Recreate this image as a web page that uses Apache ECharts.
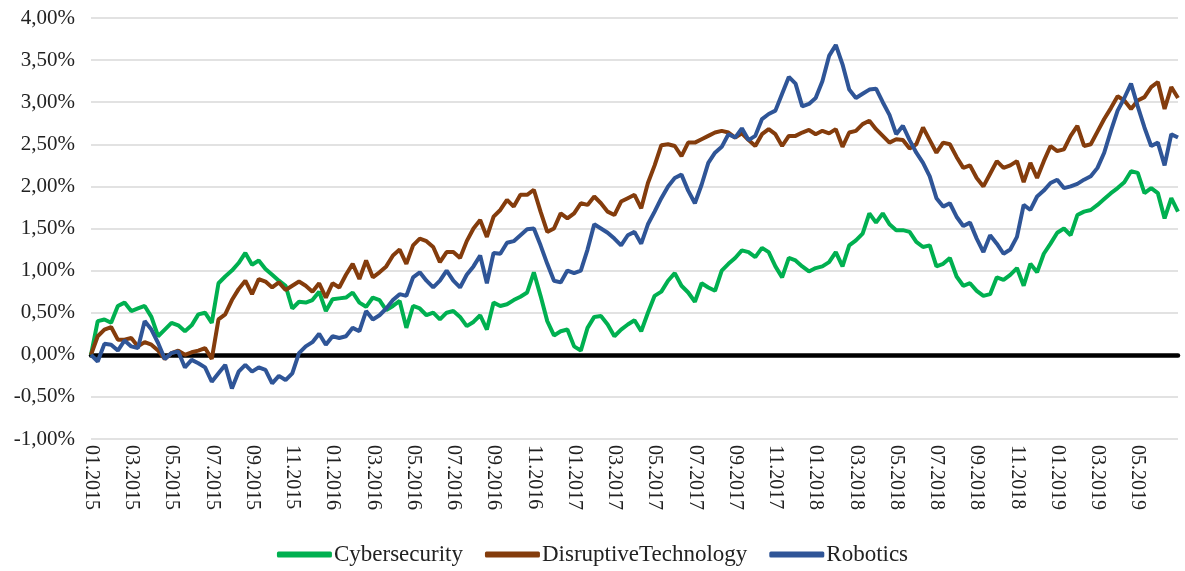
<!DOCTYPE html>
<html>
<head>
<meta charset="utf-8">
<title>Cybersecurity / Disruptive Technology / Robotics</title>
<script src="https://cdn.jsdelivr.net/npm/echarts@6/dist/echarts.min.js"></script>
<style>
  html, body { margin: 0; padding: 0; background: #fff; }
  #chart { width: 1185px; height: 571px; }
</style>
</head>
<body>
<div id="chart"></div>
<script>
// months shown on the axis, three readings per month (roughly every 10 days)
const startYear = 2015
const monthCount = 55 // 01.2015 .. 07.2019
const stepsPerMonth = 3

const cybersecurity = [
  0.00, 0.40, 0.42, 0.38, 0.58, 0.62, 0.52, 0.55, 0.58, 0.45,
  0.22, 0.30, 0.38, 0.35, 0.28, 0.35, 0.48, 0.50, 0.38, 0.85,
  0.93, 1.00, 1.09, 1.21, 1.07, 1.12, 1.02, 0.95, 0.88, 0.82,
  0.55, 0.63, 0.62, 0.65, 0.75, 0.52, 0.66, 0.67, 0.68, 0.74,
  0.62, 0.57, 0.68, 0.65, 0.53, 0.58, 0.64, 0.32, 0.58, 0.55,
  0.47, 0.50, 0.42, 0.50, 0.52, 0.45, 0.34, 0.39, 0.47, 0.30,
  0.62, 0.58, 0.60, 0.65, 0.69, 0.74, 0.98, 0.70, 0.40, 0.23,
  0.28, 0.30, 0.10, 0.05, 0.32, 0.45, 0.46, 0.36, 0.22, 0.30,
  0.36, 0.41, 0.28, 0.50, 0.70, 0.75, 0.88, 0.97, 0.82, 0.74,
  0.63, 0.85, 0.80, 0.76, 1.00, 1.08, 1.15, 1.24, 1.22, 1.16,
  1.27, 1.22, 1.05, 0.92, 1.15, 1.12, 1.05, 0.99, 1.03, 1.05,
  1.10, 1.22, 1.05, 1.30, 1.36, 1.44, 1.68, 1.57, 1.68, 1.55,
  1.48, 1.48, 1.46, 1.34, 1.28, 1.30, 1.05, 1.08, 1.15, 0.93,
  0.82, 0.85, 0.76, 0.70, 0.72, 0.92, 0.89, 0.95, 1.03, 0.82,
  1.08, 0.98, 1.20, 1.32, 1.45, 1.50, 1.42, 1.66, 1.70, 1.72,
  1.78, 1.85, 1.92, 1.98, 2.05, 2.18, 2.16, 1.92, 1.98, 1.92,
  1.62, 1.86, 1.70
]

const disruptiveTechnology = [
  0.00, 0.22, 0.30, 0.33, 0.18, 0.18, 0.20, 0.10, 0.15, 0.12,
  0.05, -0.05, 0.02, 0.05, 0.00, 0.03, 0.05, 0.08, -0.05, 0.42,
  0.48, 0.65, 0.78, 0.88, 0.72, 0.90, 0.87, 0.80, 0.86, 0.77,
  0.82, 0.87, 0.82, 0.75, 0.85, 0.68, 0.85, 0.80, 0.95, 1.08,
  0.90, 1.12, 0.92, 0.98, 1.05, 1.18, 1.25, 1.08, 1.30, 1.38,
  1.35, 1.28, 1.10, 1.22, 1.22, 1.15, 1.35, 1.50, 1.60, 1.40,
  1.64, 1.72, 1.84, 1.76, 1.90, 1.90, 1.96, 1.70, 1.46, 1.50,
  1.68, 1.62, 1.68, 1.80, 1.78, 1.88, 1.80, 1.70, 1.66, 1.82,
  1.86, 1.90, 1.74, 2.04, 2.25, 2.49, 2.50, 2.48, 2.36, 2.52,
  2.52, 2.56, 2.60, 2.64, 2.66, 2.64, 2.58, 2.63, 2.55, 2.48,
  2.62, 2.68, 2.62, 2.48, 2.60, 2.60, 2.64, 2.67, 2.62, 2.66,
  2.63, 2.68, 2.47, 2.64, 2.66, 2.74, 2.78, 2.68, 2.60, 2.52,
  2.56, 2.55, 2.45, 2.50, 2.70, 2.55, 2.40, 2.52, 2.50, 2.35,
  2.22, 2.25, 2.10, 2.00, 2.15, 2.30, 2.22, 2.25, 2.30, 2.05,
  2.28, 2.10, 2.30, 2.48, 2.42, 2.44, 2.60, 2.72, 2.48, 2.50,
  2.65, 2.80, 2.93, 3.07, 3.02, 2.92, 3.02, 3.06, 3.18, 3.24,
  2.92, 3.18, 3.05
]

const robotics = [
  0.00, -0.08, 0.13, 0.12, 0.05, 0.17, 0.10, 0.08, 0.40, 0.30,
  0.14, -0.05, 0.02, 0.04, -0.15, -0.06, -0.10, -0.15, -0.32, -0.22,
  -0.12, -0.40, -0.20, -0.12, -0.20, -0.15, -0.18, -0.34, -0.25, -0.30,
  -0.22, 0.02, 0.10, 0.15, 0.25, 0.12, 0.22, 0.20, 0.22, 0.32,
  0.28, 0.52, 0.42, 0.47, 0.55, 0.65, 0.72, 0.70, 0.92, 0.98,
  0.88, 0.80, 0.88, 1.00, 0.88, 0.80, 0.95, 1.05, 1.18, 0.85,
  1.21, 1.20, 1.33, 1.35, 1.42, 1.49, 1.50, 1.30, 1.08, 0.88,
  0.86, 1.00, 0.97, 1.00, 1.25, 1.55, 1.50, 1.45, 1.38, 1.30,
  1.42, 1.46, 1.32, 1.55, 1.70, 1.86, 2.00, 2.10, 2.14, 1.95,
  1.80, 2.02, 2.28, 2.40, 2.47, 2.62, 2.58, 2.69, 2.55, 2.60,
  2.80, 2.86, 2.90, 3.10, 3.30, 3.22, 2.95, 2.98, 3.05, 3.25,
  3.55, 3.68, 3.45, 3.15, 3.05, 3.10, 3.15, 3.16, 3.00, 2.85,
  2.62, 2.72, 2.55, 2.40, 2.28, 2.12, 1.86, 1.76, 1.80, 1.64,
  1.53, 1.57, 1.38, 1.22, 1.42, 1.32, 1.20, 1.25, 1.40, 1.78,
  1.72, 1.88, 1.95, 2.04, 2.08, 1.98, 2.00, 2.03, 2.08, 2.12,
  2.22, 2.40, 2.66, 2.90, 3.05, 3.22, 2.95, 2.70, 2.48, 2.52,
  2.25, 2.62, 2.58
]

const seriesNames = ['Cybersecurity', 'DisruptiveTechnology', 'Robotics']
const palette = ['#00b050', '#843c0c', '#2f5597']

// category per reading, e.g. "03.2016/2"; only the month part is printed
const periods = []
for (let m = 0; m < monthCount; m++) {
  const year = startYear + Math.floor(m / 12)
  const month = String((m % 12) + 1).padStart(2, '0')
  for (let s = 0; s < stepsPerMonth; s++) {
    if (m === monthCount - 1 && s > 0) break
    periods.push(`${month}.${year}/${s + 1}`)
  }
}

const fontFamily = '"Liberation Serif", "DejaVu Serif", serif'
const lastIndex = periods.length - 1

const chart = echarts.init(document.getElementById('chart'))

chart.setOption({
  animation: false,
  grid: {
    left: 91,
    right: 7,
    top: 18,
    bottom: 132
  },
  legend: {
    data: seriesNames,
    bottom: 0,
    left: 'center',
    icon: 'roundRect',
    itemWidth: 55,
    itemHeight: 6,
    itemGap: 22,
    textStyle: {
      fontFamily,
      fontSize: 23,
      color: '#222',
      padding: [0, 0, 0, -3]
    }
  },
  xAxis: [
    {
      type: 'category',
      data: periods,
      boundaryGap: false,
      axisLine: { show: false, onZero: false },
      axisTick: { show: false },
      splitLine: { show: false },
      axisLabel: {
        rotate: -90,
        margin: 6,
        fontFamily,
        fontSize: 20,
        color: '#222',
        interval: (index) => index % 6 === 0 && index < lastIndex,
        formatter: (value) => value.split('/')[0]
      }
    },
    {
      // the thick black zero line
      type: 'category',
      data: periods,
      boundaryGap: false,
      position: 'bottom',
      axisLine: { show: true, onZero: true, lineStyle: { color: '#000', width: 4.5 } },
      axisTick: { show: false },
      axisLabel: { show: false },
      splitLine: { show: false }
    }
  ],
  yAxis: {
    type: 'value',
    min: -1,
    max: 4,
    interval: 0.5,
    axisLine: { show: false },
    axisTick: { show: false },
    splitLine: { lineStyle: { color: '#d9d9d9', width: 1.5 } },
    axisLabel: {
      margin: 16,
      fontFamily,
      fontSize: 21,
      color: '#222',
      formatter: (value) => value.toFixed(2).replace('.', ',') + '%'
    }
  },
  series: [cybersecurity, disruptiveTechnology, robotics].map((values, index) => ({
    name: seriesNames[index],
    type: 'line',
    data: values,
    showSymbol: false,
    symbol: 'none',
    itemStyle: { color: palette[index] },
    lineStyle: { width: 4, color: palette[index] },
    z: 3
  }))
})

window.addEventListener('resize', () => chart.resize())
</script>
</body>
</html>
